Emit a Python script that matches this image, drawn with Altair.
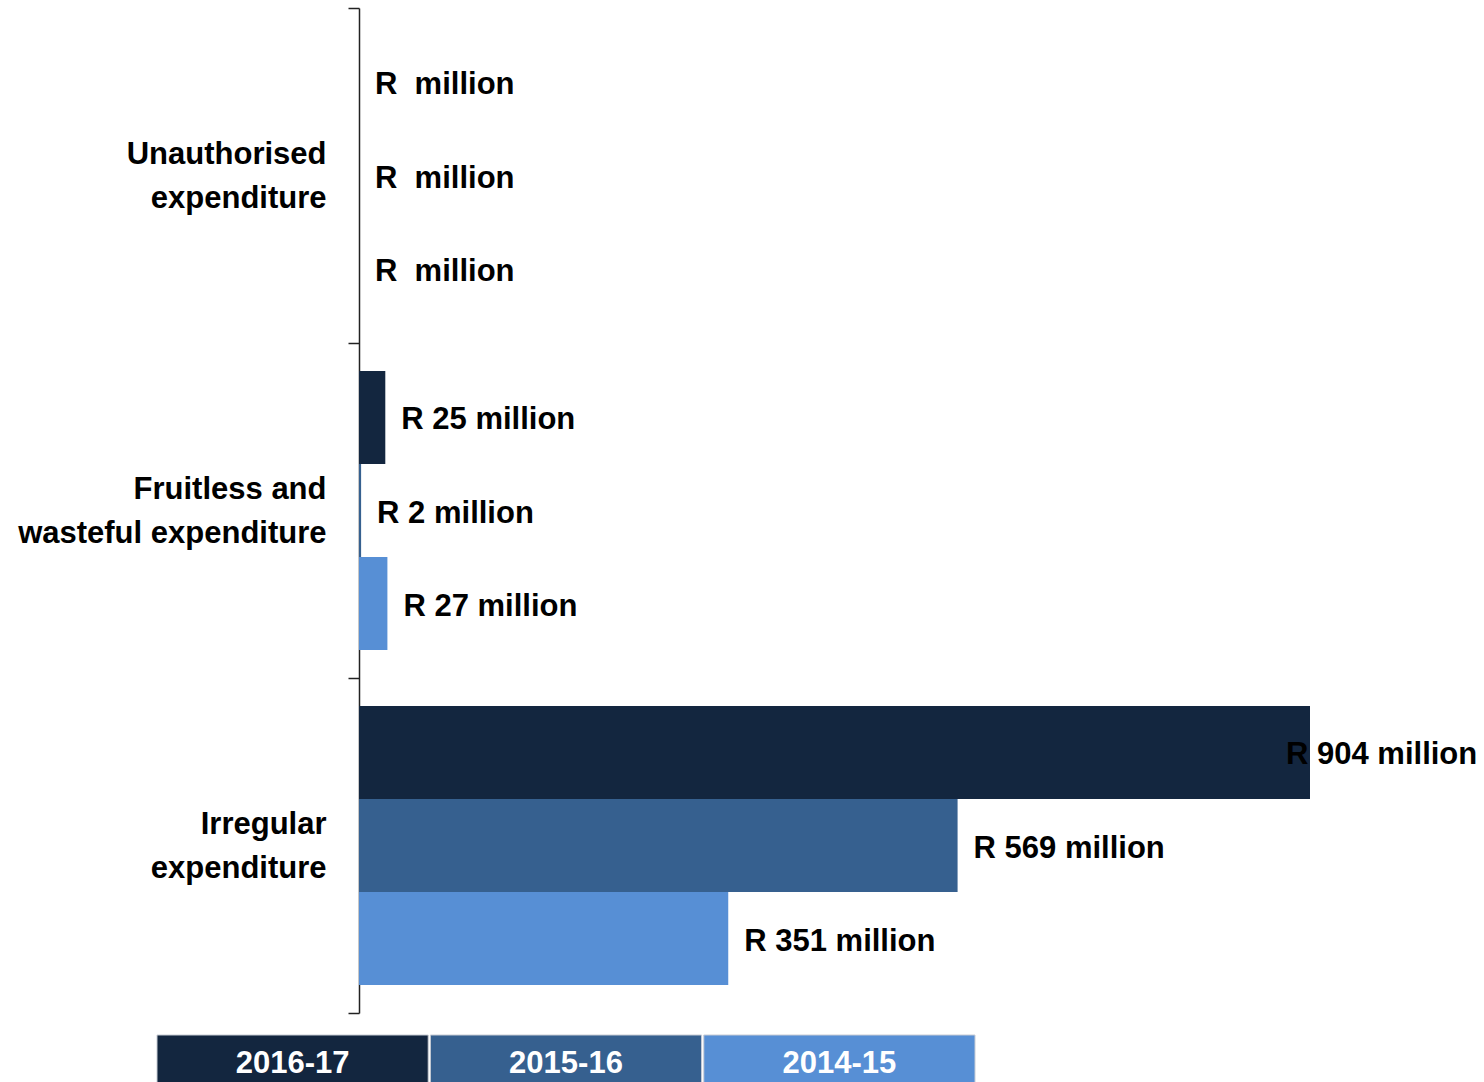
import altair as alt
import pandas as pd

categories = ["Unauthorised\nexpenditure", "Fruitless and\nwasteful expenditure", "Irregular\nexpenditure"]
years = ["2016-17", "2015-16", "2014-15"]
unauthorised = [None, None, None]
fruitless = [25, 2, 27]
irregular = [904, 569, 351]
colors = ["#13263F", "#36608F", "#578FD5"]

FONT = "Liberation Sans, Arial, sans-serif"
FS = 31

rows = []
for cat, vals in zip(categories, [unauthorised, fruitless, irregular]):
    for yr, v in zip(years, vals):
        rows.append({"category": cat, "year": yr, "value": v,
                     "label": "R " + ("\u00a0" if v is None else str(v) + " ") + "million"})
df = pd.DataFrame(rows)

xscale = alt.Scale(domain=[0, 904], nice=False, zero=True)
yenc = alt.Y("category:N", sort=categories, title=None,
             scale=alt.Scale(paddingInner=0, paddingOuter=0),
             axis=alt.Axis(tickBand="extent", labelExpr="split(datum.label, '\\n')",
                           labelFont=FONT, labelFontSize=FS, labelFontWeight="bold",
                           labelColor="black", labelLineHeight=44, labelPadding=22,
                           labelOffset=-21,
                           labelLimit=0, tickSize=11, tickColor="#222222", tickWidth=1.5,
                           domainColor="#222222", domainWidth=1.5))
yoff = alt.YOffset("year:N", sort=years, scale=alt.Scale(paddingInner=0, paddingOuter=0.301))
cscale = alt.Scale(domain=years, range=colors)

bars = alt.Chart(df).mark_bar().encode(
    y=yenc,
    yOffset=yoff,
    x=alt.X("value:Q", scale=xscale, axis=None),
    color=alt.Color("year:N", scale=cscale, legend=None),
)

labels = alt.Chart(df).transform_calculate(
    lx="isValid(datum.value) ? min(datum.value, 866) : 0"
).mark_text(align="left", baseline="middle", dx=16, dy=3, font=FONT, fontSize=FS,
            fontWeight="bold", color="black").encode(
    y=yenc,
    yOffset=yoff,
    x=alt.X("lx:Q", scale=xscale, axis=None),
    text="label:N",
)

main = (bars + labels).properties(width=951, height=1005)

leg_df = pd.DataFrame({"year": years})
leg_base = alt.Chart(leg_df).encode(
    x=alt.X("year:N", sort=years, axis=None,
            scale=alt.Scale(paddingInner=0.008, paddingOuter=0, range=[-202, 616]))
)
leg_rect = leg_base.mark_rect(stroke="#c8ccd4", strokeWidth=1).encode(
    color=alt.Color("year:N", scale=cscale, legend=None)
)
leg_text = leg_base.mark_text(color="white", font=FONT, fontSize=FS,
                              fontWeight="bold", baseline="middle", dy=4).encode(text="year:N")
legend = (leg_rect + leg_text).properties(width=818, height=49)

chart = alt.vconcat(main, legend, spacing=20).properties(
    padding={"left": 17, "top": -8, "right": 0, "bottom": 0}
).configure_view(stroke=None)

chart.save("out.html", embed_options={"renderer": "svg", "actions": False})
